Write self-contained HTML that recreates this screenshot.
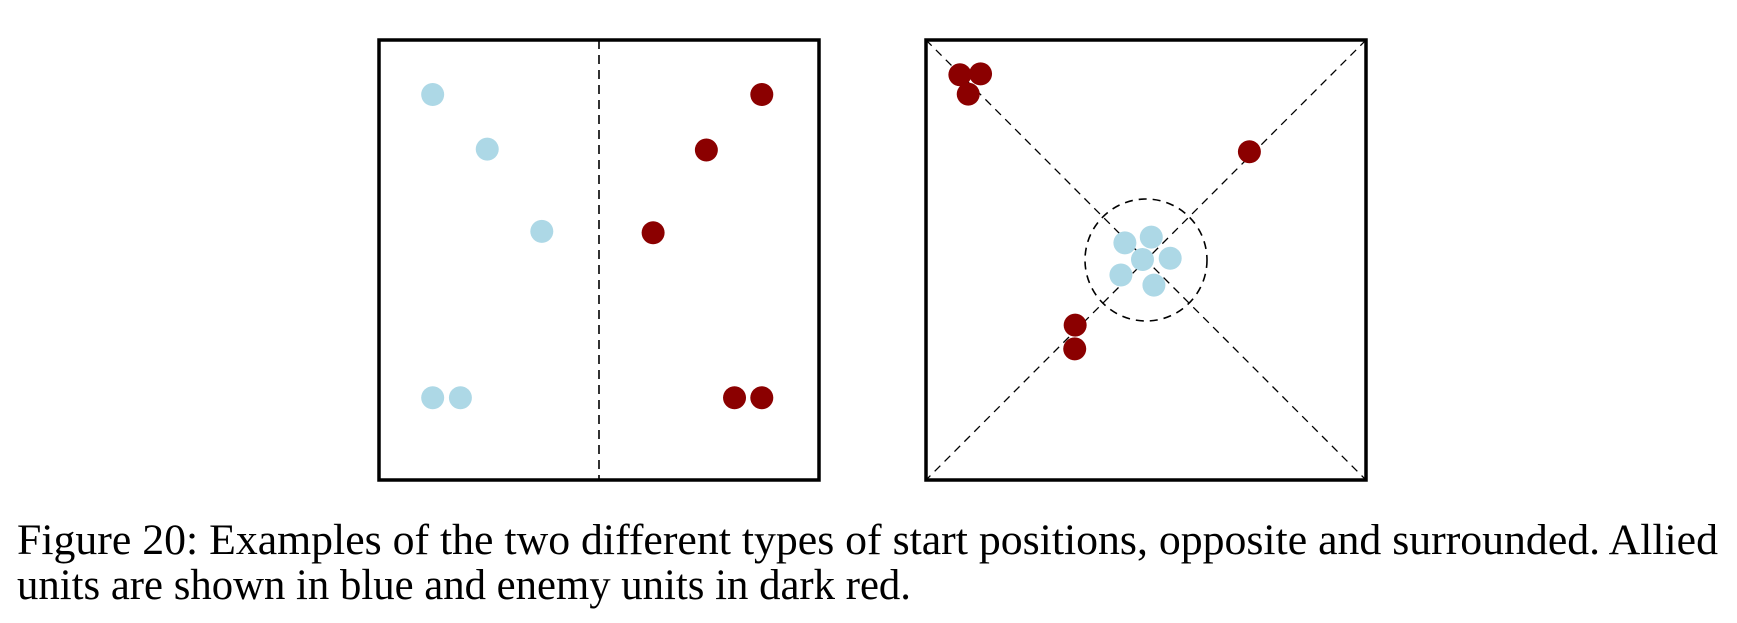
<!DOCTYPE html>
<html><head><meta charset="utf-8"><style>
html,body{margin:0;padding:0;background:#fff;width:1737px;height:623px;overflow:hidden}
</style></head><body>
<svg id="fig" width="1737" height="623" viewBox="0 0 1737 623" xmlns="http://www.w3.org/2000/svg">
<g id="left"></g>
<g id="right"></g>
<text x="17" y="554" font-family="Liberation Serif, serif" font-size="43" textLength="1701" lengthAdjust="spacingAndGlyphs">Figure 20:  Examples of the two different types of start positions, opposite and surrounded.  Allied</text>
<text x="17" y="599" font-family="Liberation Serif, serif" font-size="43" textLength="894" lengthAdjust="spacingAndGlyphs">units are shown in blue and enemy units in dark red.</text>
</svg>
<script>
// unit positions in box percentage coordinates (0-100)
const oppAlliedX=[12.2,24.6,37,12.2,18.5];
const oppAlliedY=[12.4,24.8,43.5,81.3,81.3];
const oppEnemyX=[87,74.4,62.3,80.8,87];
const oppEnemyY=[12.4,25,43.8,81.3,81.3];
const surAlliedX=[45.2,51.2,49.2,55.5,44.3,51.8];
const surAlliedY=[46.1,44.8,49.9,49.6,53.4,55.7];
const surEnemyX=[7.7,12.4,9.6,73.5,33.9,33.8];
const surEnemyY=[7.9,7.7,12.3,25.4,64.8,70.2];
const SVGNS="http://www.w3.org/2000/svg";
const S=440, R=11.5;
function mk(tag,attrs,parent){const e=document.createElementNS(SVGNS,tag);for(const k in attrs)e.setAttribute(k,attrs[k]);parent.appendChild(e);return e;}
function panel(g,x0,y0){
  return {sx:v=>x0+v/100*S, sy:v=>y0+v/100*S};
}
// Left panel
const L=document.getElementById('left'), lx=379, ly=40, pl=panel(L,lx,ly);
let dl=mk('line',{x1:lx+S/2,y1:ly,x2:lx+S/2,y2:ly+S,stroke:'#000','stroke-width':1.6,'stroke-dasharray':'9,6'},L);


let bl=mk('rect',{x:lx,y:ly,width:S,height:S,fill:'none',stroke:'#000','stroke-width':3.5},L);


oppAlliedX.forEach((v,i)=>{const c=mk('circle',{cx:pl.sx(v),cy:pl.sy(oppAlliedY[i]),r:R,fill:'#add8e6'},L);

});
oppEnemyX.forEach((v,i)=>{const c=mk('circle',{cx:pl.sx(v),cy:pl.sy(oppEnemyY[i]),r:R,fill:'#8b0000'},L);

});
// Right panel
const Rg=document.getElementById('right'), rx=926, ry=40, pr=panel(Rg,rx,ry);
let d1=mk('line',{x1:rx,y1:ry,x2:rx+S,y2:ry+S,stroke:'#000','stroke-width':1.3,'stroke-dasharray':'8,6'},Rg);


let d2=mk('line',{x1:rx+S,y1:ry,x2:rx,y2:ry+S,stroke:'#000','stroke-width':1.3,'stroke-dasharray':'8,6'},Rg);


let ci=mk('circle',{cx:rx+S/2,cy:ry+S/2,r:61,fill:'none',stroke:'#000','stroke-width':1.6,'stroke-dasharray':'8,6'},Rg);


let br=mk('rect',{x:rx,y:ry,width:S,height:S,fill:'none',stroke:'#000','stroke-width':3.5},Rg);


surAlliedX.forEach((v,i)=>{const c=mk('circle',{cx:pr.sx(v),cy:pr.sy(surAlliedY[i]),r:R,fill:'#add8e6'},Rg);

});
surEnemyX.forEach((v,i)=>{const c=mk('circle',{cx:pr.sx(v),cy:pr.sy(surEnemyY[i]),r:R,fill:'#8b0000'},Rg);

});
</script>
</body></html>
